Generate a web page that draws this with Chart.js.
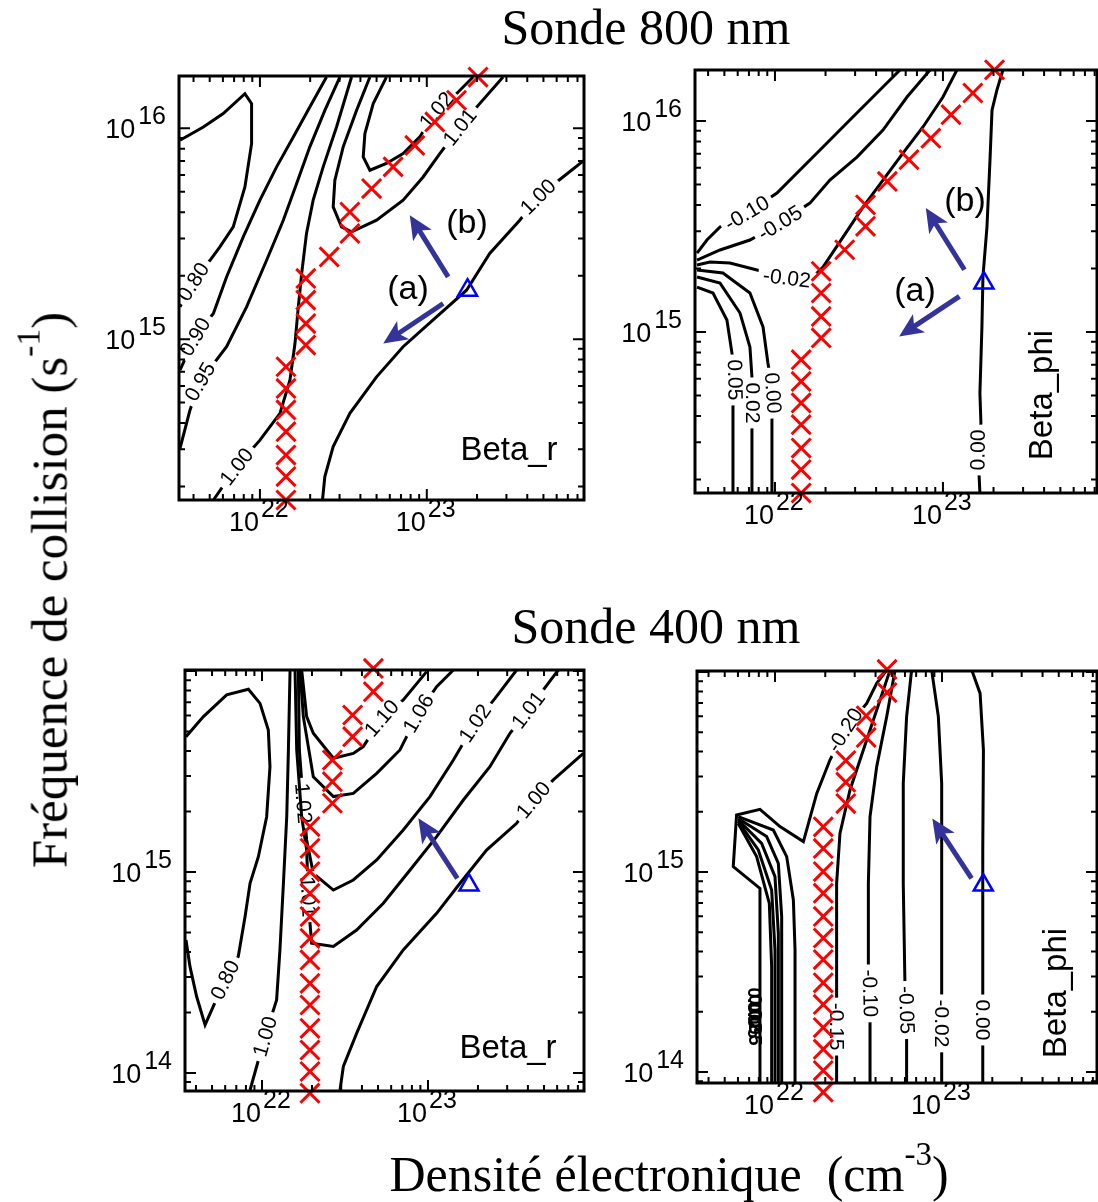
<!DOCTYPE html>
<html lang="fr">
<head>
<meta charset="utf-8">
<title>Sonde 800 nm / 400 nm</title>
<script src="https://cdn.jsdelivr.net/npm/chart.js@4.4.1/dist/chart.umd.min.js"></script>
<style>
  html, body { margin: 0; padding: 0; background: #fff; }
  #page { position: relative; width: 1098px; height: 1202px; overflow: hidden; background: #fff; }
  #page canvas { position: absolute; left: 0; top: 0; }
  .titre {
    position: absolute; white-space: nowrap; line-height: 1; color: #000;
    font-family: "Liberation Serif", "Times New Roman", serif; font-size: 50px;
    transform: translate(-50%, -50%);
  }
  .titre sup { font-size: 0.66em; vertical-align: 0.8em; line-height: 0; }
  #titreY { font-size: 51px; transform: translate(-50%, -50%) rotate(-90deg); }
</style>
</head>
<body>
<div id="page">
  <canvas id="betaR800" width="1098" height="1202"></canvas>
  <canvas id="betaPhi800" width="1098" height="1202"></canvas>
  <canvas id="betaR400" width="1098" height="1202"></canvas>
  <canvas id="betaPhi400" width="1098" height="1202"></canvas>
  <div class="titre" style="left:646px; top:27px;">Sonde 800 nm</div>
  <div class="titre" style="left:656px; top:626px;">Sonde 400 nm</div>
  <div class="titre" id="titreY" style="left:50px; top:590px;">Fréquence de collision (s<sup>-1</sup>)</div>
  <div class="titre" style="left:669px; top:1174px;">Densité électronique&nbsp; (cm<sup>-3</sup>)</div>
</div>
<script>
// Toutes les valeurs sont en log10 (densite en cm^-3, frequence en s^-1).
const densiteMajeurs = [22, 23];
const frequenceMajeursHaut = [15, 16];
const frequenceMajeursBas = [14, 15];

// Croix rouges
const croixHautDensite = [22.156, 22.156, 22.156, 22.156, 22.156, 22.156, 22.156, 22.275, 22.275, 22.275, 22.275,
    22.415, 22.539, 22.539, 22.669, 22.798, 22.928, 23.048, 23.178, 23.307];
const croixHautFrequence = [14.237, 14.348, 14.450, 14.561, 14.664, 14.766, 14.869, 14.972, 15.074, 15.185, 15.288,
    15.390, 15.501, 15.603, 15.714, 15.817, 15.919, 16.030, 16.133, 16.243];
const croixBasDensite = [22.289, 22.289, 22.289, 22.289, 22.289, 22.289, 22.289, 22.289, 22.289, 22.289, 22.289, 22.289, 22.289,
    22.424, 22.424, 22.424, 22.546, 22.546, 22.671, 22.671];
const croixBasFrequence = [13.899, 14.007, 14.114, 14.222, 14.338, 14.446, 14.562, 14.670, 14.778, 14.894, 15.002, 15.118, 15.226,
    15.342, 15.449, 15.557, 15.673, 15.781, 15.897, 16.013];

// Point de depart (triangle bleu) et fleches
const triangleHaut = [23.244, 15.232];
const triangleBas = [23.247, 14.935];
const flecheB800 = [[23.128, 15.295], [22.898, 15.588]];
const flecheA800 = [[23.098, 15.169], [22.739, 14.979]];
const fleche400 = [[23.177, 14.968], [22.942, 15.267]];

// Beta_r, sonde 800 nm
const betaR800_080 = [[21.521, 15.153], [21.601, 15.272], [21.701, 15.374], [21.760, 15.438], [21.840, 15.532], [21.910, 15.722],
    [21.950, 15.927], [21.950, 16.117], [21.910, 16.164], [21.780, 16.070], [21.661, 16.006], [21.521, 15.943]];
const betaR800_090 = [[21.521, 14.853], [21.611, 15.011], [21.721, 15.122], [21.800, 15.295], [21.900, 15.485], [22.000, 15.659],
    [22.100, 15.817], [22.200, 15.959], [22.299, 16.101], [22.399, 16.243]];
const betaR800_095 = [[21.521, 14.482], [21.581, 14.664], [21.641, 14.798], [21.800, 14.964], [21.920, 15.153], [22.040, 15.374],
    [22.140, 15.564], [22.220, 15.738], [22.299, 15.912], [22.389, 16.085], [22.479, 16.243]];
const betaR800_100a = [[21.721, 14.237], [21.860, 14.395], [22.000, 14.521], [22.120, 14.648], [22.180, 14.806], [22.210, 14.979],
    [22.230, 15.153], [22.250, 15.311], [22.279, 15.501], [22.319, 15.659], [22.379, 15.817], [22.459, 16.006], [22.549, 16.243]];
const betaR800_100b = [[22.375, 14.237], [22.389, 14.348], [22.439, 14.490], [22.539, 14.648], [22.699, 14.821], [22.858, 14.964],
    [23.058, 15.106], [23.238, 15.232], [23.377, 15.406], [23.557, 15.564], [23.667, 15.675], [23.816, 15.769], [23.942, 15.848]];
const betaR800_101 = [[22.659, 16.243], [22.579, 16.085], [22.499, 15.912], [22.449, 15.754], [22.439, 15.627], [22.489, 15.532],
    [22.549, 15.509], [22.699, 15.564], [22.858, 15.659], [22.978, 15.769], [23.078, 15.880], [23.198, 16.006], [23.317, 16.117], [23.457, 16.243]];
const betaR800_102 = [[22.758, 16.243], [22.679, 16.117], [22.629, 15.975], [22.619, 15.864], [22.659, 15.801], [22.758, 15.833],
    [22.858, 15.880], [22.958, 15.959], [23.058, 16.085], [23.178, 16.164], [23.277, 16.243]];

// Beta_phi, sonde 800 nm
const betaPhi800_m010 = [[21.536, 15.374], [21.595, 15.436], [21.673, 15.498], [21.833, 15.564], [22.012, 15.659], [22.149, 15.768],
    [22.286, 15.877], [22.446, 16.005], [22.607, 16.133], [22.744, 16.242]];
const betaPhi800_m005 = [[21.536, 15.341], [21.673, 15.389], [21.851, 15.436], [22.030, 15.517], [22.208, 15.611], [22.327, 15.720],
    [22.488, 15.829], [22.643, 15.957], [22.786, 16.114], [22.923, 16.242]];
const betaPhi800_m002 = [[21.536, 15.318], [21.613, 15.332], [21.732, 15.327], [21.893, 15.294], [22.071, 15.256], [22.226, 15.261],
    [22.286, 15.308], [22.405, 15.450], [22.524, 15.592], [22.643, 15.720], [22.762, 15.848], [22.881, 15.972], [23.000, 16.114], [23.083, 16.242]];
const betaPhi800_p000a = [[21.536, 15.294], [21.690, 15.280], [21.851, 15.185], [21.929, 15.024], [21.958, 14.853], [21.988, 14.711],
    [21.982, 14.583], [21.982, 14.237]];
const betaPhi800_p002 = [[21.536, 15.261], [21.673, 15.232], [21.792, 15.090], [21.851, 14.929], [21.863, 14.787], [21.869, 14.664],
    [21.863, 14.536], [21.863, 14.237]];
const betaPhi800_p005 = [[21.536, 15.213], [21.631, 15.185], [21.714, 15.057], [21.744, 14.900], [21.762, 14.773], [21.750, 14.645],
    [21.750, 14.237]];
const betaPhi800_p000b = [[23.220, 14.237], [23.208, 14.441], [23.226, 14.569], [23.220, 14.711], [23.232, 15.024], [23.238, 15.261],
    [23.262, 15.498], [23.280, 15.815], [23.292, 16.052], [23.321, 16.147], [23.357, 16.242]];

// Beta_r, sonde 400 nm
const betaR400_080 = [[21.542, 14.662], [21.566, 14.529], [21.606, 14.380], [21.657, 14.239], [21.777, 14.463], [21.857, 14.579],
    [21.898, 14.778], [21.928, 14.944], [21.978, 15.076], [22.028, 15.275], [22.048, 15.524], [22.038, 15.706], [21.988, 15.839],
    [21.918, 15.909], [21.787, 15.881], [21.647, 15.773], [21.542, 15.673]];
const betaR400_100a = [[21.928, 13.915], [22.018, 14.181], [22.088, 14.363], [22.108, 14.612], [22.129, 14.944], [22.149, 15.275],
    [22.159, 15.607], [22.169, 16.005]];
const betaR400_101 = [[22.199, 16.005], [22.209, 15.607], [22.239, 15.275], [22.269, 15.109], [22.279, 14.877], [22.289, 14.745],
    [22.299, 14.645], [22.430, 14.629], [22.570, 14.711], [22.731, 14.844], [22.892, 15.010], [23.052, 15.176], [23.213, 15.358],
    [23.373, 15.524], [23.494, 15.690], [23.604, 15.806], [23.755, 15.972], [23.785, 16.005]];
const betaR400_102 = [[22.219, 16.005], [22.225, 15.607], [22.249, 15.342], [22.269, 15.159], [22.309, 14.993], [22.430, 14.910],
    [22.550, 14.960], [22.691, 15.060], [22.851, 15.209], [23.012, 15.375], [23.153, 15.557], [23.283, 15.740], [23.404, 15.864], [23.534, 16.005]];
const betaR400_106 = [[22.229, 16.005], [22.249, 15.773], [22.309, 15.474], [22.430, 15.375], [22.550, 15.391], [22.691, 15.491],
    [22.831, 15.607], [22.942, 15.789], [23.052, 15.922], [23.153, 16.005]];
const betaR400_110 = [[22.239, 16.005], [22.269, 15.773], [22.309, 15.690], [22.430, 15.566], [22.550, 15.590], [22.610, 15.624],
    [22.721, 15.765], [22.851, 15.856], [22.992, 15.997]];
const betaR400_100b = [[22.470, 13.915], [22.490, 14.032], [22.570, 14.197], [22.691, 14.430], [22.851, 14.612], [23.052, 14.794],
    [23.193, 14.944], [23.353, 15.109], [23.534, 15.242], [23.635, 15.358], [23.755, 15.458], [23.936, 15.590]];

// Beta_phi, sonde 400 nm
const betaPhi400_m020 = [[21.910, 13.943], [21.910, 14.918], [21.750, 15.027], [21.770, 15.285], [21.910, 15.313], [22.030, 15.227],
    [22.170, 15.152], [22.250, 15.393], [22.329, 15.560], [22.419, 15.710], [22.549, 15.843], [22.609, 15.943], [22.669, 16.010]];
const betaPhi400_m015 = [[22.689, 16.010], [22.629, 15.860], [22.529, 15.610], [22.449, 15.410], [22.389, 15.193], [22.369, 14.943],
    [22.369, 14.610], [22.369, 14.360], [22.369, 14.227], [22.369, 14.077], [22.369, 13.943]];
const betaPhi400_m010 = [[22.719, 16.010], [22.669, 15.777], [22.609, 15.527], [22.569, 15.277], [22.559, 14.943], [22.559, 14.527],
    [22.569, 14.393], [22.569, 14.260], [22.569, 13.943]];
const betaPhi400_m005 = [[22.818, 16.010], [22.788, 15.777], [22.768, 15.443], [22.768, 14.943], [22.778, 14.443], [22.788, 14.310],
    [22.788, 14.177], [22.788, 13.943]];
const betaPhi400_m002 = [[22.938, 16.010], [22.978, 15.777], [22.998, 15.443], [22.998, 14.943], [22.998, 14.377], [22.998, 14.243],
    [22.998, 14.110], [22.998, 13.943]];
const betaPhi400_p000 = [[23.178, 16.010], [23.228, 15.893], [23.248, 15.610], [23.244, 15.110], [23.244, 14.393], [23.244, 14.260],
    [23.244, 14.127], [23.244, 13.943]];
const betaPhi400_amasA = [[21.780, 15.277], [21.990, 15.210], [22.070, 15.077], [22.110, 14.860], [22.120, 14.610], [22.120, 13.943]];
const betaPhi400_amasB = [[21.780, 15.268], [21.950, 15.177], [22.020, 15.043], [22.040, 14.777], [22.040, 13.943]];
const betaPhi400_amasC = [[21.780, 15.260], [21.920, 15.143], [22.000, 14.977], [22.020, 14.693], [22.020, 13.943]];
const betaPhi400_amasD = [[21.780, 15.252], [21.900, 15.110], [21.980, 14.910], [22.000, 14.610], [22.000, 13.943]];
const betaPhi400_amasE = [[21.780, 15.243], [21.890, 15.077], [21.966, 14.843], [21.980, 14.527], [21.980, 13.943]];
const betaPhi400_pileNiveaux = ["0.00", "0.02", "0.05", "0.05"];

const POLICE = "'Liberation Sans', Arial, Helvetica, sans-serif";

const panneaux = [
    {
        id: "betaR800",
        pad: { left: 179, top: 76, right: 514, bottom: 702 },
        x: [21.515, 23.942], y: [14.237, 16.248],
        yMajeurs: frequenceMajeursHaut,
        croix: [croixHautDensite, croixHautFrequence],
        triangle: triangleHaut,
        fleches: [flecheB800, flecheA800],
        contours: [
            { pts: betaR800_080, niveau: "0.80", etiq: [1] },
            { pts: betaR800_090, niveau: "0.90", etiq: [1] },
            { pts: betaR800_095, niveau: "0.95", etiq: [2] },
            { pts: betaR800_100a, niveau: "1.00", etiq: [1] },
            { pts: betaR800_100b, niveau: "1.00", etiq: [10] },
            { pts: betaR800_101, niveau: "1.01", etiq: [11] },
            { pts: betaR800_102, niveau: "1.02", etiq: [8] }
        ],
        textes: [
            { t: "Beta_r", dx: 330, dy: 384, taille: 33, rot: 0 },
            { t: "(b)", dx: 288, dy: 148, taille: 34, rot: 0 },
            { t: "(a)", dx: 229, dy: 214, taille: 34, rot: 0 }
        ]
    },
    {
        id: "betaPhi800",
        pad: { left: 695, top: 70, right: 1, bottom: 709 },
        x: [21.524, 23.917], y: [14.237, 16.242],
        yMajeurs: frequenceMajeursHaut,
        croix: [croixHautDensite, croixHautFrequence],
        triangle: triangleHaut,
        fleches: [flecheB800, flecheA800],
        contours: [
            { pts: betaPhi800_m010, niveau: "-0.10", etiq: [3] },
            { pts: betaPhi800_m005, niveau: "-0.05", etiq: [3] },
            { pts: betaPhi800_m002, niveau: "-0.02", etiq: [4] },
            { pts: betaPhi800_p000a, niveau: "0.00", etiq: [5] },
            { pts: betaPhi800_p002, niveau: "0.02", etiq: [5] },
            { pts: betaPhi800_p005, niveau: "0.05", etiq: [4] },
            { pts: betaPhi800_p000b, niveau: "0.00", etiq: [1] }
        ],
        textes: [
            { t: "Beta_phi", dx: 357, dy: 325, taille: 33, rot: -90 },
            { t: "(b)", dx: 270, dy: 132, taille: 34, rot: 0 },
            { t: "(a)", dx: 220, dy: 222, taille: 34, rot: 0 }
        ]
    },
    {
        id: "betaR400",
        pad: { left: 185, top: 670, right: 514, bottom: 111 },
        x: [21.536, 23.940], y: [13.910, 16.005],
        yMajeurs: frequenceMajeursBas,
        croix: [croixBasDensite, croixBasFrequence],
        triangle: triangleBas,
        fleches: [fleche400],
        contours: [
            { pts: betaR400_080, niveau: "0.80", etiq: [4] },
            { pts: betaR400_100a, niveau: "1.00", etiq: [1] },
            { pts: betaR400_101, niveau: "1.01", etiq: [4, 15] },
            { pts: betaR400_102, niveau: "1.02", etiq: [2, 11] },
            { pts: betaR400_106, niveau: "1.06", etiq: [7] },
            { pts: betaR400_110, niveau: "1.10", etiq: [6] },
            { pts: betaR400_100b, niveau: "1.00", etiq: [9] }
        ],
        textes: [
            { t: "Beta_r", dx: 323, dy: 388, taille: 33, rot: 0 }
        ]
    },
    {
        id: "betaPhi400",
        pad: { left: 697, top: 671, right: 1, bottom: 119 },
        x: [21.533, 23.928], y: [13.945, 16.005],
        yMajeurs: frequenceMajeursBas,
        croix: [croixBasDensite, croixBasFrequence],
        triangle: triangleBas,
        fleches: [fleche400],
        contours: [
            { pts: betaPhi400_m020, niveau: "-0.20", etiq: [9] },
            { pts: betaPhi400_m015, niveau: "-0.15", etiq: [8] },
            { pts: betaPhi400_m010, niveau: "-0.10", etiq: [6] },
            { pts: betaPhi400_m005, niveau: "-0.05", etiq: [5] },
            { pts: betaPhi400_m002, niveau: "-0.02", etiq: [5] },
            { pts: betaPhi400_p000, niveau: "0.00", etiq: [5] },
            { pts: betaPhi400_amasA, niveau: "", etiq: [] },
            { pts: betaPhi400_amasB, niveau: "", etiq: [] },
            { pts: betaPhi400_amasC, niveau: "", etiq: [] },
            { pts: betaPhi400_amasD, niveau: "", etiq: [] },
            { pts: betaPhi400_amasE, niveau: "", etiq: [] }
        ],
        pile: { pos: [21.87, 14.33], niveaux: betaPhi400_pileNiveaux },
        textes: [
            { t: "Beta_phi", dx: 369, dy: 322, taille: 33, rot: -90 }
        ]
    }
];

function versPoints(liste) {
    return liste.map(([x, y]) => ({ x: Math.pow(10, x), y: Math.pow(10, y) }));
}

function dessinerFleche(ctx, x0, y0, x1, y1) {
    const ang = Math.atan2(y1 - y0, x1 - x0);
    const tete = 24;
    const demi = 11;
    const cos = Math.cos(ang);
    const sin = Math.sin(ang);
    const bx = x1 - tete * cos;
    const by = y1 - tete * sin;
    ctx.strokeStyle = "#333399";
    ctx.fillStyle = "#333399";
    ctx.lineWidth = 5;
    ctx.lineCap = "butt";
    ctx.beginPath();
    ctx.moveTo(x0, y0);
    ctx.lineTo(x1 - tete * 0.7 * cos, y1 - tete * 0.7 * sin);
    ctx.stroke();
    ctx.beginPath();
    ctx.moveTo(x1, y1);
    ctx.lineTo(bx + demi * sin, by - demi * cos);
    ctx.lineTo(x1 - tete * 0.75 * cos, y1 - tete * 0.75 * sin);
    ctx.lineTo(bx - demi * sin, by + demi * cos);
    ctx.closePath();
    ctx.fill();
}

// Etiquettes des niveaux de contour, posees sur la ligne avec un blanc autour.
const etiquettesPlugin = {
    id: "etiquettes",
    afterDatasetDraw(chart, args) {
        const ds = chart.data.datasets[args.index];
        if (!ds.niveau || !ds.etiq || ds.etiq.length === 0) return;
        const pts = args.meta.data;
        const ctx = chart.ctx;
        ctx.save();
        ctx.font = "21px " + POLICE;
        ds.etiq.forEach((i) => {
            const p = pts[i];
            const a = pts[Math.max(i - 1, 0)];
            const b = pts[Math.min(i + 1, pts.length - 1)];
            const ang = Math.atan2(b.y - a.y, b.x - a.x);
            const w = ctx.measureText(ds.niveau).width;
            ctx.save();
            ctx.translate(p.x, p.y);
            ctx.rotate(ang);
            ctx.fillStyle = "#fff";
            ctx.fillRect(-w / 2 - 5, -9, w + 10, 18);
            ctx.fillStyle = "#000";
            ctx.textAlign = "center";
            ctx.textBaseline = "middle";
            ctx.fillText(ds.niveau, 0, 1);
            ctx.restore();
        });
        ctx.restore();
    }
};

// Cadre, graduations vers l'interieur, libelles 10^n, fleches et textes.
const cadrePlugin = {
    id: "cadre",
    afterDraw(chart) {
        const p = chart.config.options.plugins.cadre.panneau;
        const { ctx, chartArea: a } = chart;
        const sx = chart.scales.x;
        const sy = chart.scales.y;
        ctx.save();

        p.fleches.forEach(([d, f]) => {
            dessinerFleche(ctx,
                sx.getPixelForValue(Math.pow(10, d[0])), sy.getPixelForValue(Math.pow(10, d[1])),
                sx.getPixelForValue(Math.pow(10, f[0])), sy.getPixelForValue(Math.pow(10, f[1])));
        });

        if (p.pile) {
            const px = sx.getPixelForValue(Math.pow(10, p.pile.pos[0]));
            const py = sy.getPixelForValue(Math.pow(10, p.pile.pos[1]));
            ctx.font = "bold 19px " + POLICE;
            ctx.fillStyle = "#000";
            ctx.textAlign = "center";
            ctx.textBaseline = "middle";
            p.pile.niveaux.forEach((t, i) => {
                ctx.save();
                ctx.translate(px + (i % 2), py + i * 7);
                ctx.rotate(Math.PI / 2);
                ctx.fillText(t, 0, 0);
                ctx.restore();
            });
        }

        p.textes.forEach((t) => {
            ctx.save();
            ctx.font = t.taille + "px " + POLICE;
            ctx.fillStyle = "#000";
            ctx.translate(a.left + t.dx, a.top + t.dy);
            ctx.rotate(t.rot * Math.PI / 180);
            ctx.textAlign = "center";
            ctx.textBaseline = t.rot === 0 && t.t.startsWith("(") ? "middle" : "alphabetic";
            ctx.fillText(t.t, 0, 0);
            ctx.restore();
        });

        ctx.strokeStyle = "#000";
        ctx.lineWidth = 3;
        ctx.strokeRect(a.left, a.top, a.right - a.left, a.bottom - a.top);

        ctx.lineWidth = 2;
        ctx.beginPath();
        for (let e = Math.floor(p.x[0]); e <= Math.ceil(p.x[1]); e++) {
            for (let m = 1; m < 10; m++) {
                const lv = Math.log10(m) + e;
                if (lv < p.x[0] || lv > p.x[1]) continue;
                const px = sx.getPixelForValue(Math.pow(10, lv));
                const len = m === 1 ? 11 : 6;
                ctx.moveTo(px, a.bottom); ctx.lineTo(px, a.bottom - len);
                ctx.moveTo(px, a.top); ctx.lineTo(px, a.top + len);
            }
        }
        for (let e = Math.floor(p.y[0]); e <= Math.ceil(p.y[1]); e++) {
            for (let m = 1; m < 10; m++) {
                const lv = Math.log10(m) + e;
                if (lv < p.y[0] || lv > p.y[1]) continue;
                const py = sy.getPixelForValue(Math.pow(10, lv));
                const len = m === 1 ? 11 : 6;
                ctx.moveTo(a.left, py); ctx.lineTo(a.left + len, py);
                ctx.moveTo(a.right, py); ctx.lineTo(a.right - len, py);
            }
        }
        ctx.stroke();

        ctx.fillStyle = "#000";
        ctx.textBaseline = "alphabetic";
        densiteMajeurs.forEach((e) => {
            const px = sx.getPixelForValue(Math.pow(10, e));
            ctx.font = "27px " + POLICE;
            ctx.textAlign = "right";
            ctx.fillText("10", px - 1, a.bottom + 31);
            ctx.font = "25px " + POLICE;
            ctx.textAlign = "left";
            ctx.fillText(String(e), px + 1, a.bottom + 17);
        });
        p.yMajeurs.forEach((e) => {
            const py = sy.getPixelForValue(Math.pow(10, e));
            ctx.font = "25px " + POLICE;
            ctx.textAlign = "right";
            const w = ctx.measureText(String(e)).width;
            ctx.fillText(String(e), a.left - 13, py - 4);
            ctx.font = "27px " + POLICE;
            ctx.fillText("10", a.left - 16 - w, py + 10);
        });
        ctx.restore();
    }
};

panneaux.forEach((p) => {
    const datasets = [
        {
            data: p.croix[0].map((d, i) => ({ x: Math.pow(10, d), y: Math.pow(10, p.croix[1][i]) })),
            showLine: false,
            pointStyle: "crossRot",
            pointRadius: 13.5,
            borderColor: "#ff0000",
            borderWidth: 3,
            clip: false
        },
        {
            data: versPoints([p.triangle]),
            showLine: false,
            pointStyle: "triangle",
            pointRadius: 11,
            borderColor: "#0000ff",
            backgroundColor: "rgba(255,255,255,0)",
            borderWidth: 2.5
        }
    ];
    p.contours.forEach((c) => {
        datasets.push({
            data: versPoints(c.pts),
            showLine: true,
            pointRadius: 0,
            borderColor: "#000",
            borderWidth: 3,
            tension: 0,
            fill: false,
            niveau: c.niveau,
            etiq: c.etiq
        });
    });

    new Chart(document.getElementById(p.id), {
        type: "scatter",
        data: { datasets },
        options: {
            responsive: false,
            animation: false,
            devicePixelRatio: 1,
            events: [],
            layout: { padding: p.pad, autoPadding: false },
            plugins: {
                legend: { display: false },
                tooltip: { enabled: false },
                cadre: { panneau: p }
            },
            scales: {
                x: { type: "logarithmic", display: false, min: Math.pow(10, p.x[0]), max: Math.pow(10, p.x[1]) },
                y: { type: "logarithmic", display: false, min: Math.pow(10, p.y[0]), max: Math.pow(10, p.y[1]) }
            }
        },
        plugins: [etiquettesPlugin, cadrePlugin]
    });
});
</script>
</body>
</html>
